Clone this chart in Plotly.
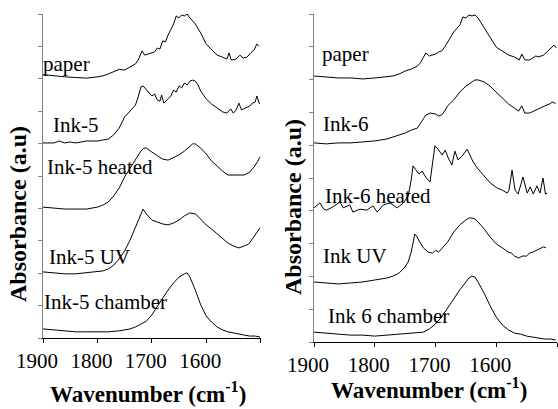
import plotly.graph_objects as go

W, H = 558, 409
FONT = "'Liberation Serif', 'Times New Roman', serif"

# ---------------- Left panel: Ink-5 series ----------------
wn_paper5 = [1900, 1880, 1860, 1840, 1820, 1800, 1790, 1780, 1770, 1760, 1750, 1740, 1730, 1725,
             1718, 1713, 1705, 1695, 1690, 1685, 1680, 1675, 1670, 1665, 1660, 1655, 1650, 1645,
             1640, 1635, 1630, 1620, 1610, 1600, 1590, 1580, 1570, 1562, 1558, 1554, 1545, 1538,
             1532, 1525, 1518, 1512, 1507, 1503]
ab_paper5 = [8.13, 8.09, 8.06, 8.04, 8.02, 8.06, 8.09, 8.15, 8.21, 8.29, 8.27, 8.36, 8.46, 8.58,
             8.86, 8.73, 8.77, 8.83, 8.95, 8.92, 9.17, 9.14, 9.35, 9.51, 9.69, 9.94, 9.88, 9.97,
             9.94, 10.0, 9.88, 9.69, 9.41, 9.07, 8.89, 8.73, 8.67, 8.61, 8.80, 8.58, 8.61, 8.73,
             8.64, 8.67, 8.80, 8.89, 9.07, 9.01]

wn_ink5 = [1900, 1880, 1870, 1860, 1850, 1840, 1830, 1820, 1810, 1800, 1790, 1780, 1770, 1760,
           1750, 1740, 1730, 1725, 1720, 1716, 1710, 1700, 1695, 1690, 1685, 1682, 1678, 1672,
           1665, 1660, 1655, 1650, 1645, 1640, 1635, 1630, 1625, 1620, 1615, 1610, 1600, 1590,
           1580, 1570, 1562, 1555, 1550, 1545, 1540, 1535, 1528, 1520, 1515, 1510, 1507, 1502]
ab_ink5 = [6.02, 6.02, 6.08, 6.02, 6.05, 6.02, 6.05, 6.08, 6.08, 6.08, 6.11, 6.14, 6.27, 6.48,
           6.82, 7.01, 7.19, 7.44, 7.75, 7.78, 7.65, 7.47, 7.53, 7.35, 7.31, 7.50, 7.25, 7.35,
           7.47, 7.65, 7.59, 7.78, 7.72, 7.87, 7.81, 7.93, 7.96, 7.93, 7.81, 7.62, 7.38, 7.22,
           7.10, 6.98, 6.94, 7.07, 6.94, 7.04, 7.25, 7.04, 7.10, 7.16, 7.25, 7.28, 7.47, 7.22]

wn_ink5_heated = [1900, 1880, 1860, 1840, 1820, 1810, 1800, 1790, 1780, 1770, 1760, 1750, 1740,
                  1730, 1720, 1715, 1710, 1700, 1690, 1680, 1670, 1660, 1650, 1640, 1630, 1625,
                  1620, 1610, 1600, 1590, 1580, 1570, 1560, 1550, 1540, 1530, 1520, 1512, 1505, 1501]
ab_ink5_heated = [4.04, 4.01, 3.98, 3.98, 3.98, 4.01, 4.04, 4.10, 4.20, 4.38, 4.63, 4.97, 5.25,
                  5.49, 5.77, 5.86, 5.86, 5.74, 5.62, 5.52, 5.49, 5.56, 5.65, 5.77, 5.90, 5.99,
                  5.99, 5.86, 5.68, 5.46, 5.31, 5.15, 5.03, 5.03, 5.03, 5.03, 5.12, 5.28, 5.46, 5.59]

wn_ink5_uv = [1900, 1880, 1860, 1840, 1820, 1800, 1790, 1780, 1770, 1760, 1750, 1740, 1730, 1722,
              1716, 1710, 1700, 1690, 1680, 1670, 1660, 1650, 1640, 1630, 1620, 1610, 1600, 1590,
              1580, 1570, 1560, 1550, 1540, 1530, 1522, 1515, 1508, 1501]
ab_ink5_uv = [2.04, 2.01, 1.98, 1.98, 2.01, 2.04, 2.07, 2.13, 2.25, 2.44, 2.69, 3.02, 3.43, 3.77,
              3.98, 3.83, 3.64, 3.58, 3.52, 3.49, 3.55, 3.64, 3.77, 3.86, 3.83, 3.67, 3.49, 3.36,
              3.21, 3.06, 2.93, 2.84, 2.78, 2.84, 2.90, 3.06, 3.24, 3.40]

wn_ink5_chamber = [1900, 1880, 1860, 1840, 1820, 1800, 1780, 1760, 1740, 1730, 1720, 1710, 1700,
                   1690, 1680, 1670, 1660, 1650, 1645, 1640, 1635, 1630, 1620, 1610, 1600, 1590,
                   1580, 1570, 1560, 1550, 1540, 1530, 1520, 1510, 1501]
ab_ink5_chamber = [0.28, 0.25, 0.22, 0.19, 0.19, 0.19, 0.19, 0.22, 0.28, 0.34, 0.43, 0.52, 0.71,
                   0.99, 1.23, 1.48, 1.70, 1.88, 1.94, 1.98, 2.01, 1.88, 1.48, 1.02, 0.68, 0.49,
                   0.34, 0.25, 0.19, 0.15, 0.12, 0.09, 0.06, 0.06, 0.03]

# ---------------- Right panel: Ink-6 series ----------------
wn_paper6 = [1900, 1880, 1860, 1840, 1820, 1800, 1780, 1770, 1760, 1750, 1740, 1730, 1725, 1720,
             1716, 1710, 1700, 1695, 1690, 1685, 1680, 1670, 1660, 1655, 1650, 1645, 1640, 1635,
             1630, 1620, 1610, 1600, 1590, 1580, 1570, 1562, 1558, 1553, 1545, 1540, 1535, 1530,
             1522, 1515, 1510, 1505, 1501]
ab_paper6 = [8.11, 8.08, 8.05, 8.05, 8.02, 8.05, 8.08, 8.11, 8.17, 8.26, 8.32, 8.41, 8.51, 8.69,
             8.81, 8.72, 8.78, 8.84, 8.87, 8.99, 9.15, 9.45, 9.66, 9.91, 9.88, 9.97, 9.94, 9.97,
             9.88, 9.57, 9.27, 8.99, 8.87, 8.75, 8.69, 8.60, 8.78, 8.60, 8.60, 8.66, 8.72, 8.69,
             8.75, 8.87, 8.96, 9.05, 8.96]

wn_ink6 = [1900, 1880, 1860, 1840, 1820, 1800, 1780, 1760, 1750, 1740, 1730, 1722, 1716, 1708,
           1700, 1695, 1690, 1685, 1680, 1670, 1660, 1650, 1645, 1640, 1635, 1630, 1620, 1610,
           1600, 1590, 1580, 1570, 1563, 1558, 1553, 1545, 1535, 1527, 1520, 1512, 1507, 1502]
ab_ink6 = [6.07, 6.04, 6.07, 6.07, 6.10, 6.13, 6.19, 6.31, 6.37, 6.46, 6.52, 6.74, 6.92, 6.98,
           6.95, 6.89, 6.92, 7.04, 7.20, 7.38, 7.62, 7.80, 7.87, 7.93, 7.99, 7.99, 7.93, 7.80,
           7.62, 7.41, 7.26, 7.13, 7.04, 7.20, 6.98, 6.98, 7.07, 7.16, 7.20, 7.26, 7.32, 7.26]

wn_ink6_heated = [1900, 1890, 1884, 1879, 1869, 1857, 1852, 1841, 1836, 1824, 1813, 1803, 1796,
                  1786, 1775, 1763, 1753, 1745, 1740, 1737, 1732, 1727, 1722, 1715, 1709, 1704,
                  1701, 1696, 1689, 1684, 1679, 1673, 1668, 1663, 1656, 1648, 1643, 1638, 1631,
                  1622, 1610, 1599, 1590, 1582, 1579, 1574, 1569, 1564, 1556, 1549, 1544, 1539,
                  1533, 1528, 1523, 1519, 1516]
ab_ink6_heated = [4.09, 4.24, 4.05, 4.02, 4.12, 4.27, 4.09, 4.18, 3.96, 4.05, 4.02, 4.15, 3.96,
                  4.18, 4.24, 4.09, 4.24, 4.45, 4.94, 5.37, 5.24, 5.12, 5.21, 5.00, 4.88, 5.55,
                  5.98, 5.88, 5.70, 5.85, 5.61, 5.40, 5.82, 5.55, 5.67, 5.88, 5.70, 5.49, 5.30,
                  5.12, 4.85, 4.70, 4.63, 4.54, 4.63, 5.24, 4.63, 4.51, 5.03, 4.54, 4.73, 4.51,
                  4.76, 4.54, 5.00, 4.51, 4.54]

wn_ink6_uv = [1900, 1880, 1860, 1840, 1820, 1800, 1780, 1770, 1760, 1750, 1745, 1740, 1737, 1734,
              1731, 1727, 1720, 1712, 1705, 1700, 1695, 1690, 1680, 1670, 1660, 1650, 1645, 1640,
              1635, 1630, 1620, 1610, 1600, 1590, 1580, 1575, 1570, 1563, 1557, 1550, 1545, 1540,
              1533, 1527, 1522, 1518]
ab_ink6_uv = [1.83, 1.80, 1.77, 1.80, 1.83, 1.89, 1.95, 2.01, 2.10, 2.29, 2.44, 2.74, 3.05, 3.29,
              3.23, 3.08, 2.87, 2.74, 2.71, 2.80, 2.74, 2.84, 3.05, 3.35, 3.57, 3.72, 3.78, 3.78,
              3.75, 3.66, 3.45, 3.20, 2.99, 2.87, 2.74, 2.71, 2.62, 2.56, 2.62, 2.62, 2.71, 2.74,
              2.80, 2.84, 2.90, 2.87]

wn_ink6_chamber = [1900, 1880, 1860, 1840, 1820, 1800, 1780, 1760, 1740, 1720, 1710, 1700, 1690,
                   1680, 1670, 1660, 1650, 1645, 1640, 1635, 1630, 1620, 1610, 1600, 1590, 1580,
                   1570, 1560, 1550, 1540, 1530, 1520, 1510, 1502]
ab_ink6_chamber = [0.30, 0.27, 0.24, 0.21, 0.21, 0.18, 0.21, 0.24, 0.27, 0.30, 0.40, 0.55, 0.76,
                   1.04, 1.31, 1.59, 1.83, 1.95, 2.01, 1.98, 1.83, 1.49, 1.10, 0.76, 0.52, 0.37,
                   0.27, 0.24, 0.18, 0.15, 0.12, 0.09, 0.09, 0.06]

left_series = [(wn_paper5, ab_paper5), (wn_ink5, ab_ink5), (wn_ink5_heated, ab_ink5_heated),
               (wn_ink5_uv, ab_ink5_uv), (wn_ink5_chamber, ab_ink5_chamber)]
right_series = [(wn_paper6, ab_paper6), (wn_ink6, ab_ink6), (wn_ink6_heated, ab_ink6_heated),
                (wn_ink6_uv, ab_ink6_uv), (wn_ink6_chamber, ab_ink6_chamber)]

left_labels = ["paper", "Ink-5", "Ink-5 heated", "Ink-5 UV", "Ink-5 chamber"]
right_labels = ["paper", "Ink-6", "Ink-6 heated", "Ink UV", "Ink 6 chamber"]

x_ticks = [1900, 1800, 1700, 1600, 1500]
x_ticktext = ["1900", "1800", "1700", "1600", " "]

fig = go.Figure()
for wn, ab in left_series:
    fig.add_trace(go.Scatter(x=wn, y=ab, mode="lines", xaxis="x", yaxis="y",
                             line=dict(color="black", width=1), showlegend=False))
for wn, ab in right_series:
    fig.add_trace(go.Scatter(x=wn, y=ab, mode="lines", xaxis="x2", yaxis="y2",
                             line=dict(color="black", width=1), showlegend=False))


def px(x, y):
    """pixel position -> paper fraction"""
    return x / W, 1 - y / H


xa = dict(range=[1900, 1500], tickvals=x_ticks, ticktext=x_ticktext, showline=True,
          linecolor="black", linewidth=1, ticks="outside", ticklen=4, tickcolor="black",
          showgrid=False, zeroline=False, ticklabelshift=6, automargin=False,
          tickfont=dict(family=FONT, size=21, color="black"))
ya = dict(range=[0, 10], tickvals=list(range(11)), showticklabels=False, showline=True,
          linecolor="#808080", linewidth=1, ticks="outside", ticklen=4, tickcolor="#808080",
          showgrid=False, zeroline=False, automargin=False)

fig.update_layout(
    width=W, height=H, margin=dict(l=0, r=0, t=0, b=0, autoexpand=False),
    paper_bgcolor="white", plot_bgcolor="white",
    font=dict(family=FONT, color="black"),
    xaxis=dict(xa, domain=[43 / W, 260.6 / W], anchor="y"),
    yaxis=dict(ya, domain=[71 / H, 395 / H], anchor="x"),
    xaxis2=dict(xa, domain=[314 / W, 557 / W], anchor="y2"),
    yaxis2=dict(ya, domain=[67 / H, 395 / H], anchor="x2"),
)

ann = []
# spectrum labels
left_pos = [(66, 64), (76, 125), (100, 167), (89, 257), (105, 302)]
right_pos = [(345, 54), (346, 124), (378, 196), (355, 256), (388, 316)]
for text, (x, y) in list(zip(left_labels, left_pos)) + list(zip(right_labels, right_pos)):
    fx, fy = px(x, y)
    ann.append(dict(text=text, x=fx, y=fy, xref="paper", yref="paper", showarrow=False,
                    xanchor="center", yanchor="middle",
                    font=dict(family=FONT, size=21, color="black")))

# axis titles
for x, y in [(148, 392), (429, 388)]:
    fx, fy = px(x, y)
    ann.append(dict(text="<b>Wavenumber (cm<sup>-1</sup>)</b>", x=fx, y=fy, xref="paper",
                    yref="paper", showarrow=False, xanchor="center", yanchor="middle",
                    font=dict(family=FONT, size=23, color="black")))
for x, y in [(18, 214), (293, 207)]:
    fx, fy = px(x, y)
    ann.append(dict(text="<b>Absorbance (a.u)</b>", x=fx, y=fy, xref="paper", yref="paper",
                    showarrow=False, xanchor="center", yanchor="middle", textangle=-90,
                    font=dict(family=FONT, size=24, color="black")))

fig.update_layout(annotations=ann)
fig.write_html("out.html")
